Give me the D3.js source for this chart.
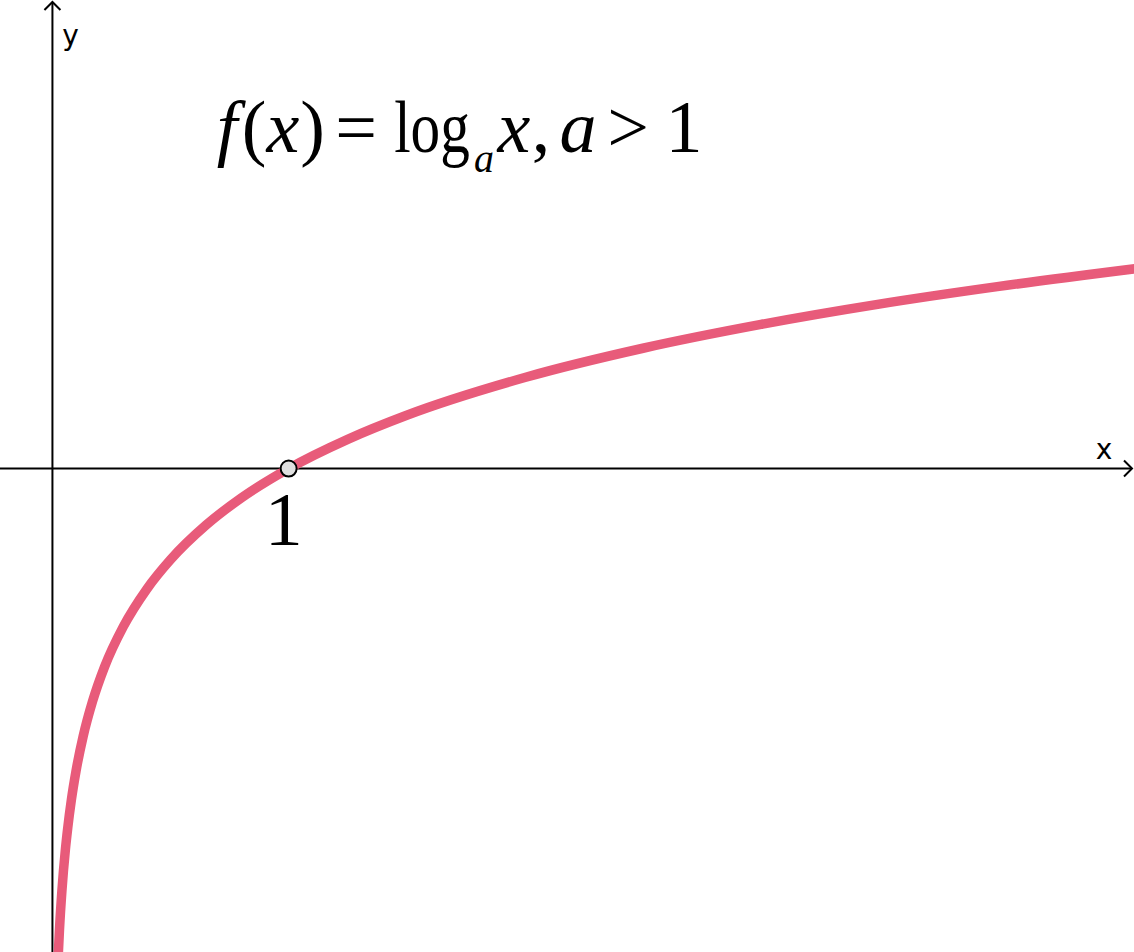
<!DOCTYPE html>
<html>
<head>
<meta charset="utf-8">
<script src="https://cdn.jsdelivr.net/npm/d3@7"></script>
<style>
  html, body { margin: 0; padding: 0; background: #fff; }
  svg { display: block; }
</style>
</head>
<body>
<div id="chart"></div>
<script>
// Curve samples: f(x) = log_a x (a > 1)
const curveX = [0.024, 0.03, 0.04, 0.055, 0.065, 0.08, 0.1, 0.13, 0.17, 0.22, 0.3, 0.4, 0.5, 0.65, 0.8, 1, 1.25, 1.5, 2, 2.5, 3, 3.5, 4, 4.6];
const curveY = [-2.075, -1.951, -1.791, -1.613, -1.521, -1.405, -1.281, -1.135, -0.986, -0.842, -0.670, -0.510, -0.386, -0.240, -0.124, 0, 0.124, 0.226, 0.386, 0.510, 0.611, 0.697, 0.771, 0.849];
// Marked point and tick label
const pointX = [1];
const pointY = [0];
const tickLabels = ["1"];
// View window
const xDomain = [-0.222, 4.579];
const yDomain = [-2.049, 1.986];

const W = 1134, H = 952;
const svg = d3.select("#chart").append("svg")
  .attr("width", W).attr("height", H);

const x = d3.scaleLinear().domain(xDomain).range([0, W]);
const y = d3.scaleLinear().domain(yDomain).range([H, 0]);

const x0 = x(0), y0 = y(0);

// Axes
const axes = svg.append("g").attr("stroke", "#000").attr("stroke-width", 2).attr("fill", "none");
axes.append("line").attr("x1", 0).attr("x2", W - 2).attr("y1", y0).attr("y2", y0);
axes.append("line").attr("x1", x0).attr("x2", x0).attr("y1", H).attr("y2", 2);
// arrowheads
axes.append("path").attr("d", `M${W - 10},${y0 - 8} L${W - 2},${y0} L${W - 10},${y0 + 8}`);
axes.append("path").attr("d", `M${x0 - 8},${10} L${x0},${2} L${x0 + 8},${10}`);

svg.append("text").attr("x", 1104).attr("y", 459).attr("text-anchor", "middle")
  .attr("font-family", "DejaVu Sans").attr("font-size", 28).text("x");
svg.append("text").attr("x", 70.5).attr("y", 45).attr("text-anchor", "middle")
  .attr("font-family", "DejaVu Sans").attr("font-size", 28).text("y");

// Curve
const pts = curveX.map((v, i) => [v, curveY[i]]);
const line = d3.line().x(d => x(d[0])).y(d => y(d[1])).curve(d3.curveMonotoneX);
svg.append("path").datum(pts)
  .attr("d", line)
  .attr("fill", "none")
  .attr("stroke", "#e85b7a")
  .attr("stroke-width", 9.5)
  .attr("stroke-linejoin", "round");

// Point at (1, 0)
svg.selectAll("circle.pt").data(pointX).enter().append("circle")
  .attr("cx", (d) => x(d)).attr("cy", (d, i) => y(pointY[i]))
  .attr("r", 8).attr("fill", "#e0e0e0").attr("stroke", "#000").attr("stroke-width", 2);

svg.selectAll("text.tick").data(tickLabels).enter().append("text")
  .attr("x", (d, i) => x(pointX[i]) - 5).attr("y", 545).attr("text-anchor", "middle")
  .attr("font-family", "Liberation Serif").attr("font-size", 76).text(d => d);

// Title: f(x) = log_a x,  a > 1
const parts = [
  { t: "f", cx: 227, it: true, a: "middle" },
  { t: "(", cx: 254, a: "middle" },
  { t: "x", cx: 283, it: true, a: "middle" },
  { t: ")", cx: 312.5, a: "middle" },
  { t: "=", cx: 356, a: "middle" },
  { t: "log", cx: 432, a: "middle", sx: 0.8 },
  { t: "a", cx: 474, it: true, sub: true, a: "start" },
  { t: "x", cx: 514, it: true, a: "middle" },
  { t: ",", cx: 541, a: "middle" },
  { t: "a", cx: 578, it: true, a: "middle" },
  { t: ">", cx: 628, a: "middle" },
  { t: "1", cx: 684, a: "middle" }
];
parts.forEach(p => {
  const yy = p.sub ? 172 : 152;
  svg.append("text")
    .attr("font-family", "Liberation Serif")
    .attr("transform", `translate(${p.cx},${yy}) scale(${p.sx || 1},1)`)
    .attr("text-anchor", p.a)
    .attr("font-style", p.it ? "italic" : "normal")
    .attr("font-size", p.sub ? 40 : 74)
    .text(p.t);
});
</script>
</body>
</html>
